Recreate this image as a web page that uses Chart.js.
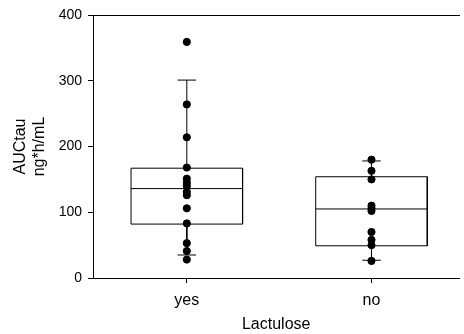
<!DOCTYPE html>
<html>
<head>
<meta charset="utf-8">
<script src="https://cdn.jsdelivr.net/npm/chart.js@4.4.1/dist/chart.umd.min.js"></script>
<style>
  html, body { margin: 0; padding: 0; background: #fff; overflow: hidden; }
  #wrap { width: 464px; height: 334px; position: relative; }
</style>
</head>
<body>
<div id="wrap"><canvas id="chart"></canvas></div>
<script>
// categories on the x axis (placed at x = 1, 2)
const categories = ['yes', 'no'];
const catPositions = [1, 2];

// individual observations
const yesValues = [359, 264, 214, 168, 151, 145, 140, 131, 126, 106, 83, 53, 41, 28];
const noValues = [180, 163, 150, 110, 106, 102, 70, 58, 50, 26];

// box statistics per category: [yes, no]
const whiskerLow = [35, 27];
const q1 = [82, 49];
const median = [136, 105];
const q3 = [167, 154];
const whiskerHigh = [301, 178];

const yTicks = [0, 100, 200, 300, 400];

const BOX_HALF = 0.302;
const CAP_HALF = 0.05;
const FONT = 'Arial, "Liberation Sans", sans-serif';

function lineSet(data) {
    return {
        type: 'line',
        data: data,
        borderColor: '#000',
        borderWidth: 1,
        pointRadius: 0,
        tension: 0,
        fill: false,
        spanGaps: false,
        order: 2
    };
}

const datasets = [];
catPositions.forEach((c, i) => {
    // box outline
    datasets.push(lineSet([
        { x: c - BOX_HALF, y: q1[i] },
        { x: c - BOX_HALF, y: q3[i] },
        { x: c + BOX_HALF, y: q3[i] },
        { x: c + BOX_HALF, y: q1[i] },
        { x: c - BOX_HALF, y: q1[i] }
    ]));
    // median
    datasets.push(lineSet([
        { x: c - BOX_HALF, y: median[i] },
        { x: c + BOX_HALF, y: median[i] }
    ]));
    // whiskers and caps
    datasets.push(lineSet([
        { x: c, y: q3[i] }, { x: c, y: whiskerHigh[i] }, { x: c, y: null },
        { x: c - CAP_HALF, y: whiskerHigh[i] }, { x: c + CAP_HALF, y: whiskerHigh[i] }, { x: c, y: null },
        { x: c, y: q1[i] }, { x: c, y: whiskerLow[i] }, { x: c, y: null },
        { x: c - CAP_HALF, y: whiskerLow[i] }, { x: c + CAP_HALF, y: whiskerLow[i] }
    ]));
});

[yesValues, noValues].forEach((vals, i) => {
    datasets.push({
        type: 'scatter',
        data: vals.map(v => ({ x: catPositions[i], y: v })),
        backgroundColor: '#000',
        borderColor: '#000',
        pointRadius: 3.6,
        pointHoverRadius: 3.6,
        order: 1
    });
});

new Chart(document.getElementById('chart'), {
    type: 'scatter',
    data: { datasets: datasets },
    options: {
        responsive: true,
        maintainAspectRatio: false,
        animation: false,
        events: [],
        layout: { padding: { top: 15, right: 0, bottom: 0, left: 0 } },
        plugins: { legend: { display: false }, tooltip: { enabled: false } },
        scales: {
            x: {
                type: 'linear',
                position: 'bottom',
                min: 0.492,
                max: 2.476,
                afterBuildTicks: (axis) => { axis.ticks = catPositions.map(v => ({ value: v })); },
                afterFit: (axis) => { axis.height = 56; },
                ticks: {
                    color: '#000',
                    font: { family: FONT, size: 16 },
                    padding: 8,
                    maxRotation: 0,
                    callback: (v) => categories[catPositions.indexOf(v)]
                },
                grid: { drawOnChartArea: false, tickLength: 5, color: '#000' },
                border: { color: '#000', width: 1 },
                title: {
                    display: true,
                    text: 'Lactulose',
                    color: '#000',
                    font: { family: FONT, size: 16 },
                    padding: { top: 2, bottom: 0 }
                }
            },
            xTop: {
                type: 'linear',
                position: 'top',
                min: 0.492,
                max: 2.476,
                afterFit: (axis) => { axis.height = 0; },
                ticks: { display: false },
                grid: { display: false },
                border: { display: true, color: '#000', width: 1 }
            },
            y: {
                min: 0,
                max: 400,
                afterBuildTicks: (axis) => { axis.ticks = yTicks.map(v => ({ value: v })); },
                afterFit: (axis) => { axis.width = 93; },
                ticks: {
                    color: '#000',
                    font: { family: FONT, size: 14 },
                    padding: 6
                },
                grid: { drawOnChartArea: false, tickLength: 5, color: '#000' },
                border: { color: '#000', width: 1 },
                title: {
                    display: true,
                    text: ['AUCtau', 'ng*h/mL'],
                    color: '#000',
                    font: { family: FONT, size: 16 },
                    padding: { top: 11, bottom: 0 }
                }
            }
        }
    }
});
</script>
</body>
</html>
